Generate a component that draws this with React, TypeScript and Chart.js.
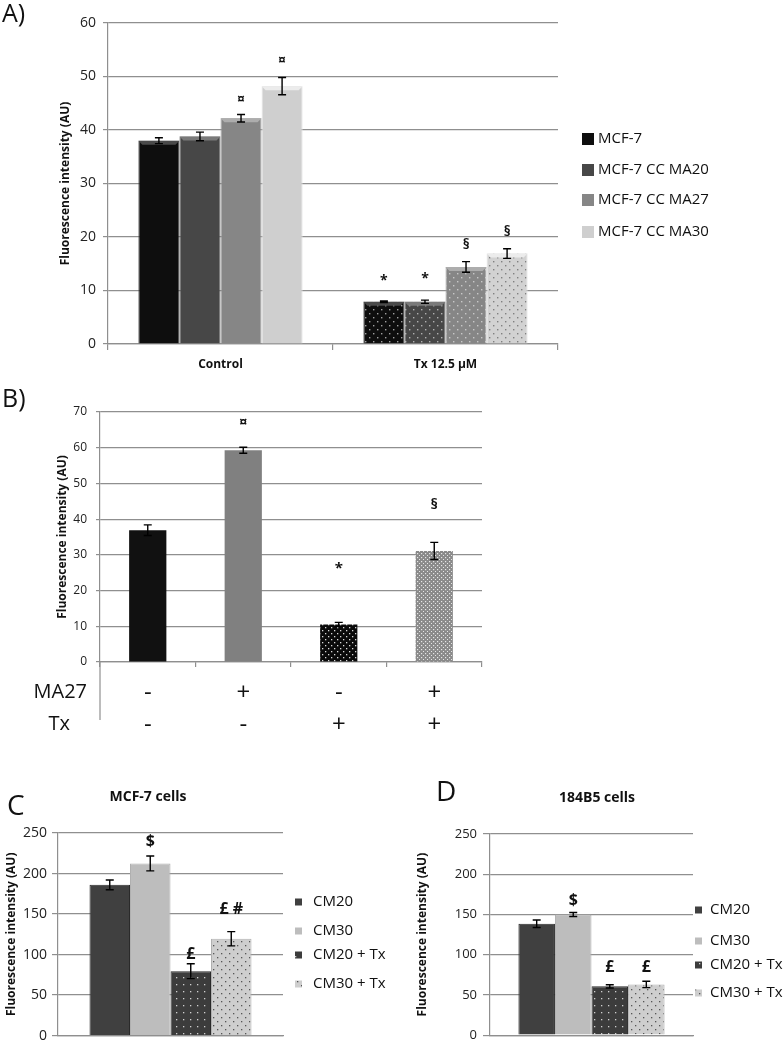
import React, { useEffect, useRef } from 'react';
import { Chart, registerables } from 'chart.js';

Chart.register(...registerables);

const FONT = "'Open Sans', 'DejaVu Sans', sans-serif";
Chart.defaults.font.family = FONT;
Chart.defaults.color = '#1a1a1a';

// ---------------- Panel A ----------------
const categoriesA = ['Control', 'Tx 12.5 µM'];
const seriesNamesA = ['MCF-7', 'MCF-7 CC MA20', 'MCF-7 CC MA27', 'MCF-7 CC MA30'];
const mcf7A = [38.0, 7.9];
const ma20A = [38.8, 7.9];
const ma27A = [42.2, 14.4];
const ma30A = [48.2, 16.9];
const mcf7AErr = [0.55, 0.15];
const ma20AErr = [0.8, 0.3];
const ma27AErr = [0.7, 1.0];
const ma30AErr = [1.6, 0.9];
const mcf7AMarks = ['', '*'];
const ma20AMarks = ['', '*'];
const ma27AMarks = ['¤', '§'];
const ma30AMarks = ['¤', '§'];
const mcf7AMarkAt = [0, 11.8];
const ma20AMarkAt = [0, 12.1];
const ma27AMarkAt = [45.6, 18.5];
const ma30AMarkAt = [52.9, 20.9];
const yTicksA = [0, 10, 20, 30, 40, 50, 60];

// ---------------- Panel B ----------------
const ma27Row = ['-', '+', '-', '+'];
const txRow = ['-', '-', '+', '+'];
const rowNamesB = ['MA27', 'Tx'];
const valuesB = [36.9, 59.3, 10.5, 31.1];
const errB = [1.5, 0.85, 0.6, 2.4];
const marksB = ['', '¤', '*', '§'];
const markAtB = [0, 67.0, 26.2, 43.9];
const yTicksB = [0, 10, 20, 30, 40, 50, 60, 70];

// ---------------- Panel C ----------------
const seriesNamesCD = ['CM20', 'CM30', 'CM20 + Tx', 'CM30 + Tx'];
const valuesC = [186, 212.5, 79.5, 119.5];
const errC = [6, 9.2, 9.2, 8.8];
const marksC = ['', '$', '£', '£ #'];
const markAtC = [0, 239, 100.5, 155.6];

// ---------------- Panel D ----------------
const valuesD = [138.5, 150, 60.7, 63.1];
const errD = [4.6, 2.5, 2, 4];
const marksD = ['', '$', '£', '£'];
const markAtD = [0, 167.4, 83.9, 83.9];
const yTicksCD = [0, 50, 100, 150, 200, 250];

const GRID = '#8f8f8f';

function dotPattern(bg: string, dot: string, tile: number, r: number, stagger: boolean) {
  const c = document.createElement('canvas');
  c.width = tile;
  c.height = tile;
  const g = c.getContext('2d')!;
  g.fillStyle = bg;
  g.fillRect(0, 0, tile, tile);
  g.fillStyle = dot;
  g.fillRect(1, 1, r, r);
  if (stagger) g.fillRect(1 + tile / 2, 1 + tile / 2, r, r);
  return g.createPattern(c, 'repeat')!;
}

type TextItem = { text: string; x: number; y: number; font: string; align: CanvasTextAlign };
type Decor = {
  errors: number[][];
  marks: string[][];
  markAt: number[][];
  markFont: string;
  cap: number;
  bevel?: string[];
  legend?: { boxX: number; textX: number; ys: number[]; box: number; font: string; fills: any[] };
  texts?: TextItem[];
  axisExtendTo?: number;
};

function makeDecor(cfg: Decor) {
  return {
    id: 'decor',
    afterDatasetsDraw(chart: any) {
      const ctx: CanvasRenderingContext2D = chart.ctx;
      const ys = chart.scales.y;
      ctx.save();
      chart.data.datasets.forEach((ds: any, i: number) => {
        const meta = chart.getDatasetMeta(i);
        meta.data.forEach((el: any, j: number) => {
          const v = ds.data[j] as number;
          const x = el.x;
          if (cfg.bevel) {
            const w = el.width;
            const l = x - w / 2;
            const r = x + w / 2;
            const t = el.y;
            ctx.fillStyle = cfg.bevel[i];
            ctx.beginPath();
            ctx.moveTo(l, t);
            ctx.lineTo(r, t);
            ctx.lineTo(r - 4, t + 4);
            ctx.lineTo(l + 4, t + 4);
            ctx.closePath();
            ctx.fill();
          }
          const e = cfg.errors[i] ? cfg.errors[i][j] : 0;
          if (e) {
            const yt = ys.getPixelForValue(v + e);
            const yb = ys.getPixelForValue(v - e);
            ctx.strokeStyle = '#000';
            ctx.lineWidth = 1.4;
            ctx.beginPath();
            ctx.moveTo(x, yt);
            ctx.lineTo(x, yb);
            ctx.moveTo(x - cfg.cap, yt);
            ctx.lineTo(x + cfg.cap, yt);
            ctx.moveTo(x - cfg.cap, yb);
            ctx.lineTo(x + cfg.cap, yb);
            ctx.stroke();
          }
          const m = cfg.marks[i] ? cfg.marks[i][j] : '';
          if (m) {
            ctx.fillStyle = '#111';
            ctx.font = cfg.markFont;
            ctx.textAlign = 'center';
            ctx.textBaseline = 'middle';
            ctx.fillText(m, x, ys.getPixelForValue(cfg.markAt[i][j]));
          }
        });
      });
      if (cfg.legend) {
        const L = cfg.legend;
        ctx.font = L.font;
        ctx.textAlign = 'left';
        ctx.textBaseline = 'middle';
        chart.data.datasets.forEach((ds: any, k: number) => {
          const yy = L.ys[k];
          ctx.fillStyle = L.fills[k];
          ctx.fillRect(L.boxX, yy - L.box / 2, L.box, L.box);
          ctx.fillStyle = '#111';
          ctx.fillText(ds.label, L.textX, yy);
        });
      }
      if (cfg.texts) {
        cfg.texts.forEach((t) => {
          ctx.font = t.font;
          ctx.textAlign = t.align;
          ctx.textBaseline = 'middle';
          ctx.fillStyle = '#111';
          ctx.fillText(t.text, t.x, t.y);
        });
      }
      if (cfg.axisExtendTo) {
        const ca = chart.chartArea;
        ctx.strokeStyle = GRID;
        ctx.lineWidth = 1.2;
        ctx.beginPath();
        ctx.moveTo(ca.left, ca.bottom);
        ctx.lineTo(ca.left, cfg.axisExtendTo);
        ctx.stroke();
      }
      ctx.restore();
    },
  };
}

function yAxis(ticks: number[], width: number, tickFont: number, tickPad: number, tickLen: number, titleFont: number, titlePad: number) {
  return {
    min: ticks[0],
    max: ticks[ticks.length - 1],
    afterBuildTicks: (s: any) => {
      s.ticks = ticks.map((v) => ({ value: v }));
    },
    ticks: { font: { size: tickFont, family: FONT }, color: '#222', padding: tickPad },
    grid: { color: GRID, lineWidth: 1.2, tickLength: tickLen },
    border: { color: GRID, width: 1.2 },
    title: {
      display: true,
      text: 'Fluorescence intensity (AU)',
      font: { size: titleFont, weight: 'bold', family: FONT },
      color: '#111',
      padding: { top: titlePad, bottom: 0 },
    },
    afterFit: (s: any) => {
      s.width = width;
    },
  };
}

function makeA(canvas: HTMLCanvasElement) {
  const solids = ['#0e0e0e', '#474747', '#868686', '#cfcfcf'];
  const edges = ['#3a3a3a', '#6a6a6a', '#a0a0a0', '#e2e2e2'];
  const bevel = ['#4a4a4a', '#7a7a7a', '#adadad', '#ececec'];
  const pats = [
    dotPattern('#0e0e0e', '#a0a0a0', 8, 1.4, true),
    dotPattern('#474747', '#b0b0b0', 8, 1.4, true),
    dotPattern('#868686', '#c8c8c8', 8, 1.4, true),
    dotPattern('#d2d2d2', '#808080', 8, 1.4, true),
  ];
  const series = [mcf7A, ma20A, ma27A, ma30A];
  const errs = [mcf7AErr, ma20AErr, ma27AErr, ma30AErr];
  const marks = [mcf7AMarks, ma20AMarks, ma27AMarks, ma30AMarks];
  const markAt = [mcf7AMarkAt, ma20AMarkAt, ma27AMarkAt, ma30AMarkAt];
  return new Chart(canvas, {
    type: 'bar',
    data: {
      labels: categoriesA,
      datasets: series.map((d, i) => ({
        label: seriesNamesA[i],
        data: d,
        backgroundColor: [solids[i], pats[i]],
        borderColor: edges[i],
        borderWidth: { left: 1, right: 1, top: 0, bottom: 0 },
        categoryPercentage: 0.73,
        barPercentage: 1,
      })) as any,
    },
    options: {
      responsive: false,
      animation: false,
      layout: { padding: { left: 0, top: 23, right: 225, bottom: 0 } },
      plugins: { legend: { display: false }, tooltip: { enabled: false } },
      scales: {
        y: yAxis(yTicksA, 108, 14, 7, 5, 12, 58) as any,
        x: {
          grid: { display: true, drawOnChartArea: false, drawTicks: true, tickLength: 6, color: GRID, lineWidth: 1.2 },
          border: { color: GRID, width: 1.2 },
          ticks: { font: { size: 12, weight: 'bold', family: FONT }, color: '#111', padding: 7 },
          afterFit: (s: any) => {
            s.height = 36;
          },
        } as any,
      },
    },
    plugins: [
      makeDecor({
        errors: errs,
        marks,
        markAt,
        markFont: `bold 14px ${FONT}`,
        cap: 4,
        bevel,
        legend: { boxX: 582, textX: 598, ys: [139, 170, 200, 232], box: 12, font: `15px ${FONT}`, fills: solids },
        texts: [{ text: 'A)', x: 2, y: 15, font: `25px ${FONT}`, align: 'left' }],
      }) as any,
    ],
  });
}

function makeB(canvas: HTMLCanvasElement) {
  const colors = ['#111111', '#808080', dotPattern('#0a0a0a', '#d8d8d8', 6, 1.3, true), dotPattern('#8a8a8a', '#e6e6e6', 4, 1.2, true)];
  return new Chart(canvas, {
    type: 'bar',
    data: {
      labels: ma27Row.map((m, i) => [m, txRow[i]]),
      datasets: [
        {
          label: 'B',
          data: valuesB,
          backgroundColor: colors as any,
          categoryPercentage: 1,
          barPercentage: 0.39,
        },
      ],
    },
    options: {
      responsive: false,
      animation: false,
      layout: { padding: { left: 0, top: 32, right: 18, bottom: 0 } },
      plugins: { legend: { display: false }, tooltip: { enabled: false } },
      scales: {
        y: yAxis(yTicksB, 100, 12, 9, 4, 12, 55) as any,
        x: {
          grid: { display: true, drawOnChartArea: false, drawTicks: true, tickLength: 5, color: GRID, lineWidth: 1.2 },
          border: { color: GRID, width: 1.2 },
          ticks: { font: { size: 24, family: FONT, lineHeight: 1.35 }, color: '#111', padding: 10 },
          afterFit: (s: any) => {
            s.height = 88;
          },
        } as any,
      },
    },
    plugins: [
      makeDecor({
        errors: [errB],
        marks: [marksB],
        markAt: [markAtB],
        markFont: `bold 15px ${FONT}`,
        cap: 4,
        axisExtendTo: 340,
        texts: [
          { text: 'B)', x: 2, y: 20, font: `25px ${FONT}`, align: 'left' },
          { text: rowNamesB[0], x: 87, y: 312, font: `20px ${FONT}`, align: 'right' },
          { text: rowNamesB[1], x: 70, y: 344, font: `20px ${FONT}`, align: 'right' },
        ],
      }) as any,
    ],
  });
}

function makeCD(
  canvas: HTMLCanvasElement,
  values: number[],
  errs: number[],
  marks: string[],
  markAt: number[],
  opts: { yWidth: number; right: number; top: number; xHeight: number; tickFont: number; tickPad: number; tickLen: number; titleFont: number; titlePad: number; legendBoxX: number; legendTextX: number; legendYs: number[]; texts: TextItem[] }
) {
  const fills = [
    '#404040',
    '#bdbdbd',
    dotPattern('#3c3c3c', '#d0d0d0', 7, 1.3, false),
    dotPattern('#cecece', '#555555', 8, 1.3, true),
  ];
  const borders = ['#2a2a2a', '#b0b0b0', '#2a2a2a', '#b0b0b0'];
  return new Chart(canvas, {
    type: 'bar',
    data: {
      labels: [''],
      datasets: values.map((v, i) => ({
        label: seriesNamesCD[i],
        data: [v],
        backgroundColor: fills[i],
        borderColor: borders[i],
        borderWidth: 1,
        categoryPercentage: 0.72,
        barPercentage: 1,
      })) as any,
    },
    options: {
      responsive: false,
      animation: false,
      layout: { padding: { left: 0, top: opts.top, right: opts.right, bottom: 0 } },
      plugins: { legend: { display: false }, tooltip: { enabled: false } },
      scales: {
        y: yAxis(yTicksCD, opts.yWidth, opts.tickFont, opts.tickPad, opts.tickLen, opts.titleFont, opts.titlePad) as any,
        x: {
          grid: { display: false },
          border: { color: GRID, width: 1.2 },
          ticks: { display: false },
          afterFit: (s: any) => {
            s.height = opts.xHeight;
          },
        } as any,
      },
    },
    plugins: [
      makeDecor({
        errors: errs.map((e) => [e]),
        marks: marks.map((m) => [m]),
        markAt: markAt.map((m) => [m]),
        markFont: `bold 16px ${FONT}`,
        cap: 4,
        legend: { boxX: opts.legendBoxX, textX: opts.legendTextX, ys: opts.legendYs, box: 7, font: `15px ${FONT}`, fills },
        texts: opts.texts,
      }) as any,
    ],
  });
}

function ChartBox({ make, left, top, width, height }: { make: (c: HTMLCanvasElement) => Chart; left: number; top: number; width: number; height: number }) {
  const ref = useRef<HTMLCanvasElement>(null);
  useEffect(() => {
    const chart = make(ref.current!);
    return () => chart.destroy();
  }, []);
  return (
    <canvas
      ref={ref}
      width={width}
      height={height}
      style={{ position: 'absolute', left, top, width, height, display: 'block' }}
    />
  );
}

export default function App() {
  return (
    <div style={{ position: 'absolute', left: 0, top: 0, width: 783, height: 1049, background: '#fff', overflow: 'hidden' }}>
      <ChartBox make={makeA} left={0} top={0} width={783} height={380} />
      <ChartBox make={makeB} left={0} top={380} width={500} height={370} />
      <ChartBox
        make={(c) =>
          makeCD(c, valuesC, errC, marksC, markAtC, {
            yWidth: 58,
            right: 107,
            top: 53,
            xHeight: 12,
            tickFont: 14,
            tickPad: 5,
            tickLen: 6,
            titleFont: 12,
            titlePad: 4,
            legendBoxX: 295,
            legendTextX: 313,
            legendYs: [122, 151, 175, 204],
            texts: [
              { text: 'C', x: 7, y: 27, font: `28px ${FONT}`, align: 'left' },
              { text: 'MCF-7 cells', x: 148, y: 17, font: `bold 14px ${FONT}`, align: 'center' },
            ],
          })
        }
        left={0}
        top={780}
        width={390}
        height={269}
      />
      <ChartBox
        make={(c) =>
          makeCD(c, valuesD, errD, marksD, markAtD, {
            yWidth: 100,
            right: 90,
            top: 54,
            xHeight: 5,
            tickFont: 13,
            tickPad: 6,
            tickLen: 7,
            titleFont: 12,
            titlePad: 25,
            legendBoxX: 305,
            legendTextX: 320,
            legendYs: [130, 161, 185, 213],
            texts: [
              { text: 'D', x: 46, y: 13, font: `28px ${FONT}`, align: 'left' },
              { text: '184B5 cells', x: 207, y: 18, font: `bold 14px ${FONT}`, align: 'center' },
            ],
          })
        }
        left={390}
        top={780}
        width={393}
        height={269}
      />
    </div>
  );
}
